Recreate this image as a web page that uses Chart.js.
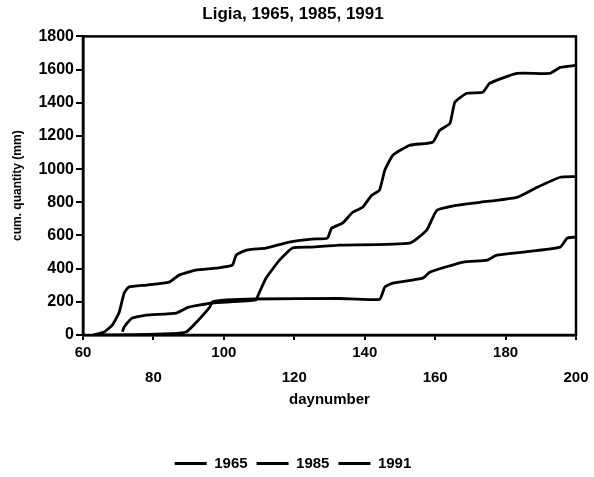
<!DOCTYPE html>
<html>
<head>
<meta charset="utf-8">
<script src="https://cdn.jsdelivr.net/npm/chart.js@4/dist/chart.umd.min.js"></script>
<style>
  html, body { margin: 0; padding: 0; background: #fff; }
  #chart { display: block; }
</style>
</head>
<body>
<canvas id="chart" width="594" height="477"></canvas>
<script>
// series labels and axis settings
const seriesNames = ["1965", "1985", "1991"];
const xTicks = [60, 80, 100, 120, 140, 160, 180, 200];
const yTicks = [0, 200, 400, 600, 800, 1000, 1200, 1400, 1600, 1800];

// top curve
const daysA = [63, 66, 68.3, 70.2, 71.7, 73, 78, 84.5, 87.3, 92, 97.8, 102.4, 103.5, 106.4, 112, 118.6, 125, 129.4, 130.6, 133.7, 136.6, 139.4, 142, 144.2, 145.7, 148, 152.8, 159.3, 161.3, 164.2, 165.6, 169, 173.5, 175.5, 183.2, 192.6, 195.5, 199.7];
const valsA = [0, 18, 60, 132, 253, 289, 301, 319, 361, 391, 403, 421, 481, 512, 524, 560, 578, 584, 644, 674, 740, 770, 843, 873, 993, 1084, 1144, 1162, 1234, 1276, 1403, 1457, 1463, 1517, 1577, 1577, 1613, 1625];

// middle curve
const daysB = [71.2, 71.7, 74, 78, 86.5, 90, 96.7, 109, 110, 112, 115.8, 119.5, 125, 132.8, 152.8, 157.6, 160.5, 166, 172.7, 183.2, 189, 195.5, 199.7];
const valsB = [20, 48, 102, 120, 132, 168, 193, 211, 253, 343, 451, 524, 530, 542, 554, 632, 752, 782, 800, 830, 891, 951, 955];

// bottom curve
const daysC = [63, 75, 85, 89.3, 92, 96, 96.7, 100.7, 109, 132.8, 144.2, 145.7, 148, 156.5, 158.5, 168, 174.7, 177.5, 185, 195.5, 197.5, 199.7];
const valsC = [0, 2, 8, 18, 72, 168, 199, 211, 217, 220, 215, 289, 313, 343, 379, 440, 451, 481, 500, 530, 584, 590];

function pts(days, vals) {
    return days.map((d, i) => ({ x: d, y: vals[i] }));
}

const fam = "'Liberation Sans', Arial, sans-serif";
const font = { family: fam, weight: "bold", size: 15 };

// frame around the plot area
const frame = {
    id: "frame",
    afterDraw(chart) {
        const a = chart.chartArea;
        const ctx = chart.ctx;
        ctx.save();
        ctx.strokeStyle = "#000";
        ctx.lineWidth = 2.5;
        ctx.strokeRect(a.left, a.top, a.right - a.left, a.bottom - a.top);
        ctx.restore();
    }
};

const lineStyle = { borderColor: "#000", backgroundColor: "#000", borderWidth: 2.8, pointRadius: 0, tension: 0.15, fill: false };

new Chart(document.getElementById("chart"), {
    type: "line",
    data: {
        datasets: [
            { label: seriesNames[0], data: pts(daysA, valsA), ...lineStyle },
            { label: seriesNames[1], data: pts(daysB, valsB), ...lineStyle },
            { label: seriesNames[2], data: pts(daysC, valsC), ...lineStyle }
        ]
    },
    options: {
        responsive: false,
        animation: false,
        layout: { padding: { left: 10, right: 18, top: 0, bottom: -4 } },
        plugins: {
            title: {
                display: true,
                text: "Ligia, 1965, 1985, 1991",
                color: "#000",
                font: { family: fam, weight: "bold", size: 17 },
                padding: { top: 4, bottom: 12 }
            },
            legend: {
                position: "bottom",
                labels: {
                    color: "#000",
                    font: font,
                    usePointStyle: true,
                    pointStyle: "line",
                    pointStyleWidth: 32,
                    padding: 9
                }
            },
            tooltip: { enabled: false }
        },
        scales: {
            x: {
                type: "linear",
                min: xTicks[0],
                max: xTicks[xTicks.length - 1],
                afterBuildTicks: axis => { axis.ticks = xTicks.map(v => ({ value: v })); },
                ticks: {
                    color: "#000",
                    font: { ...font, lineHeight: 1.7 },
                    padding: 0,
                    maxRotation: 0,
                    autoSkip: false,
                    callback: (v, i) => i % 2 === 0 ? [String(v), ""] : ["", String(v)]
                },
                grid: { drawOnChartArea: false, drawTicks: true, tickLength: 5, color: "#000", lineWidth: 2 },
                border: { color: "#000", width: 2.5 },
                title: {
                    display: true,
                    text: "daynumber",
                    color: "#000",
                    font: font,
                    padding: { top: 0, bottom: 38 }
                }
            },
            y: {
                min: 0,
                max: 1800,
                afterBuildTicks: axis => { axis.ticks = yTicks.map(v => ({ value: v })); },
                ticks: { color: "#000", font: { ...font, size: 16 }, padding: 2, callback: v => String(v) },
                grid: { drawOnChartArea: false, drawTicks: true, tickLength: 7, color: "#000", lineWidth: 2 },
                border: { color: "#000", width: 2.5 },
                title: {
                    display: true,
                    text: "cum. quantity (mm)",
                    color: "#000",
                    font: { family: fam, weight: "bold", size: 12 },
                    padding: { top: 0, bottom: 12 }
                }
            }
        }
    },
    plugins: [frame]
});
</script>
</body>
</html>
